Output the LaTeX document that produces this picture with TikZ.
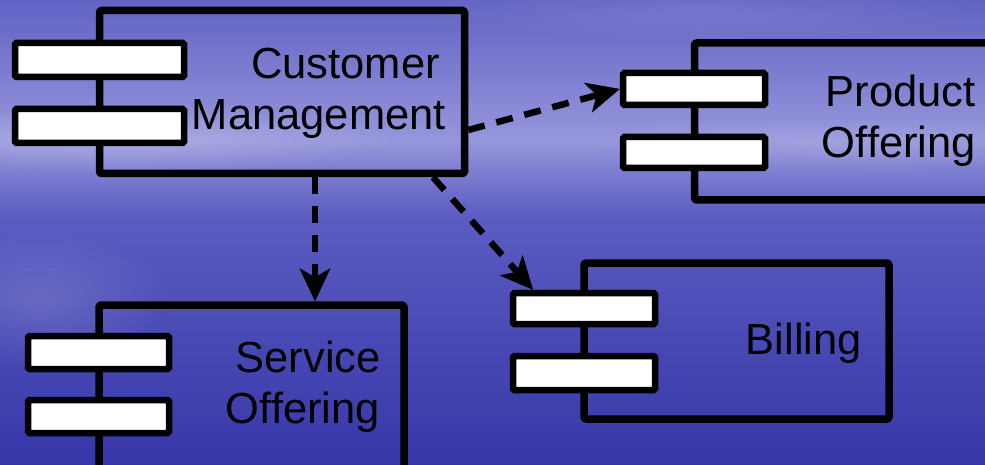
\documentclass[tikz,border=0pt]{standalone}
\usepackage{fontspec}
\setmainfont{Liberation Sans}
\usetikzlibrary{arrows.meta,fadings}

\definecolor{skyA}{RGB}{98,98,196}
\definecolor{skyB}{RGB}{150,150,220}
\definecolor{skyD}{RGB}{92,92,194}
\definecolor{skyE}{RGB}{54,54,168}

\tikzfading[name=softglow, inner color=transparent!0, outer color=transparent!100]

\begin{document}
\begin{tikzpicture}[x=1pt,y=-1pt,
  comp/.style={draw=black, line width=7.5pt, rounded corners=1.5pt, inner sep=0pt, line join=round},
  port/.style={draw=black, fill=white, line width=6.5pt, rounded corners=1.5pt, inner sep=0pt},
  title/.style={anchor=base east, inner sep=0pt, font=\fontsize{43.5}{50}\selectfont},
  dep/.style={line width=6.5pt, dash pattern=on 17pt off 12pt,
    -{Stealth[length=33pt,width=31pt,inset=9pt,line width=0.5pt]}}
]
\useasboundingbox (0,0) rectangle (985,465);
\clip (0,0) rectangle (985,465);

% sky background
\fill[top color=skyA, bottom color=skyB] (0,0) rectangle (985,140);
\fill[top color=skyB, bottom color=skyD] (0,140) rectangle (985,215);
\fill[top color=skyD, bottom color=skyE] (0,215) rectangle (985,465);
\fill[white, opacity=0.22, path fading=softglow] (120,140) ellipse (280 and 35);
\fill[white, opacity=0.15, path fading=softglow] (40,300) ellipse (130 and 70);
\fill[white, opacity=0.12, path fading=softglow] (820,145) ellipse (240 and 30);
\fill[white, opacity=0.10, path fading=softglow] (700,10) ellipse (300 and 30);

% component bodies
\node[comp, minimum width=365pt, minimum height=163pt] (cm) at (282,92) {};
\node[comp, minimum width=315pt, minimum height=157pt] (po) at (852,121.5) {};
\node[comp, minimum width=305pt, minimum height=156pt] (bi) at (736.5,341) {};
\node[comp, minimum width=305pt, minimum height=175pt] (so) at (251.5,392.5) {};

% interface ports
\node[port, minimum width=169pt, minimum height=34pt] (cm1) at (99.5,60) {};
\node[port, minimum width=169pt, minimum height=34pt] (cm2) at (99.5,126) {};
\node[port, minimum width=142pt, minimum height=32pt] (po1) at (694,89) {};
\node[port, minimum width=142pt, minimum height=31pt] (po2) at (694,152.5) {};
\node[port, minimum width=142pt, minimum height=31pt] (bi1) at (584,308.5) {};
\node[port, minimum width=142pt, minimum height=34pt] (bi2) at (584,373) {};
\node[port, minimum width=141pt, minimum height=33pt] (so1) at (98.5,352.5) {};
\node[port, minimum width=141pt, minimum height=33pt] (so2) at (98.5,416.5) {};

% names
\node[title] (cmt1) at (440,79) {Customer};
\node[title] (cmt2) at (446,130) {Management};
\node[title] (pot1) at (976,107) {Product};
\node[title] (pot2) at (976,158) {Offering};
\node[title] (bit) at (862,354) {Billing};
\node[title] (sot1) at (381,372) {Service};
\node[title] (sot2) at (380,423) {Offering};

% dependencies
\draw[dep] ([yshift=-38pt]cm.east) -- (po1.west);
\draw[dep] ([xshift=151pt]cm.south) -- ([xshift=-51pt]bi1.north);
\draw[dep] ([xshift=33pt]cm.south) -- ([xshift=63.5pt]so.north);
\end{tikzpicture}
\end{document}
